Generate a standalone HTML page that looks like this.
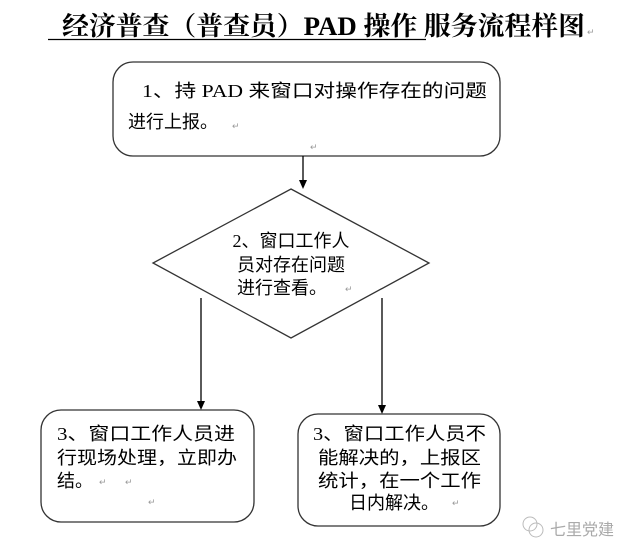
<!DOCTYPE html>
<html><head><meta charset="utf-8"><style>
body{margin:0;width:628px;height:557px;background:#fff;position:relative;overflow:hidden}
svg{position:absolute;left:0;top:0}
</style></head><body>
<svg width="628" height="557" viewBox="0 0 628 557" xmlns="http://www.w3.org/2000/svg">
<g font-family="'Liberation Serif','Noto Serif CJK SC',serif" font-weight="bold" font-size="26" fill="#000">
<text x="62" y="35" textLength="523" lengthAdjust="spacingAndGlyphs">经济普查（普查员）PAD 操作 服务流程样图</text>
</g>
<line x1="48" y1="39.5" x2="426" y2="39.5" stroke="#000" stroke-width="1.3"/>
<rect x="113" y="62" width="387" height="94" rx="20" fill="#fff" stroke="#333" stroke-width="1.3"/>
<line x1="303" y1="156" x2="303" y2="180" stroke="#000" stroke-width="1.3"/>
<path d="M299,180 L307,180 L303,189 z" fill="#000"/>
<polygon points="291,189 429,263 291,338 153,263" fill="#fff" stroke="#333" stroke-width="1.3"/>
<line x1="201" y1="298" x2="201" y2="401" stroke="#000" stroke-width="1.3"/>
<path d="M197,401 L205,401 L201,410 z" fill="#000"/>
<line x1="382" y1="298" x2="382" y2="405" stroke="#000" stroke-width="1.3"/>
<path d="M378,405 L386,405 L382,414 z" fill="#000"/>
<rect x="41" y="410" width="213" height="112" rx="20" fill="#fff" stroke="#333" stroke-width="1.3"/>
<rect x="298" y="414" width="202" height="112" rx="20" fill="#fff" stroke="#333" stroke-width="1.3"/>
<g font-family="'Liberation Serif','Noto Sans CJK SC',sans-serif" font-size="18" fill="#000">
<text x="142" y="97" textLength="345" lengthAdjust="spacingAndGlyphs">1、持 PAD 来窗口对操作存在的问题</text>
<text x="128" y="128">进行上报。</text>
<text x="291" y="247" text-anchor="middle">2、窗口工作人</text>
<text x="291" y="271" text-anchor="middle">员对存在问题</text>
<text x="282" y="294" text-anchor="middle">进行查看。</text>
<text x="57" y="440" textLength="178" lengthAdjust="spacingAndGlyphs">3、窗口工作人员进</text>
<text x="57" y="464" textLength="180" lengthAdjust="spacingAndGlyphs">行现场处理，立即办</text>
<text x="57" y="487">结。</text>
<text x="313" y="440" textLength="173" lengthAdjust="spacingAndGlyphs">3、窗口工作人员不</text>
<text x="318" y="464" textLength="163" lengthAdjust="spacingAndGlyphs">能解决的，上报区</text>
<text x="318" y="487" textLength="163" lengthAdjust="spacingAndGlyphs">统计，在一个工作</text>
<text x="349" y="509">日内解决。</text>
</g>
<g font-family="'Liberation Sans',sans-serif" font-size="9" fill="#999">
<text x="232" y="129">↵</text><text x="99" y="485">↵</text><text x="125" y="485">↵</text><text x="148" y="505">↵</text><text x="452" y="506">↵</text><text x="345" y="292">↵</text><text x="587" y="35">↵</text><text x="310" y="150">↵</text>
</g>
<g font-family="'Liberation Sans','Noto Sans CJK SC',sans-serif" font-size="16" fill="#aaa">
<circle cx="530" cy="524" r="7" fill="none" stroke="#bbb"/><circle cx="536" cy="530" r="7" fill="none" stroke="#bbb"/>
<text x="550" y="535">七里党建</text>
</g>
</svg>
</body></html>
